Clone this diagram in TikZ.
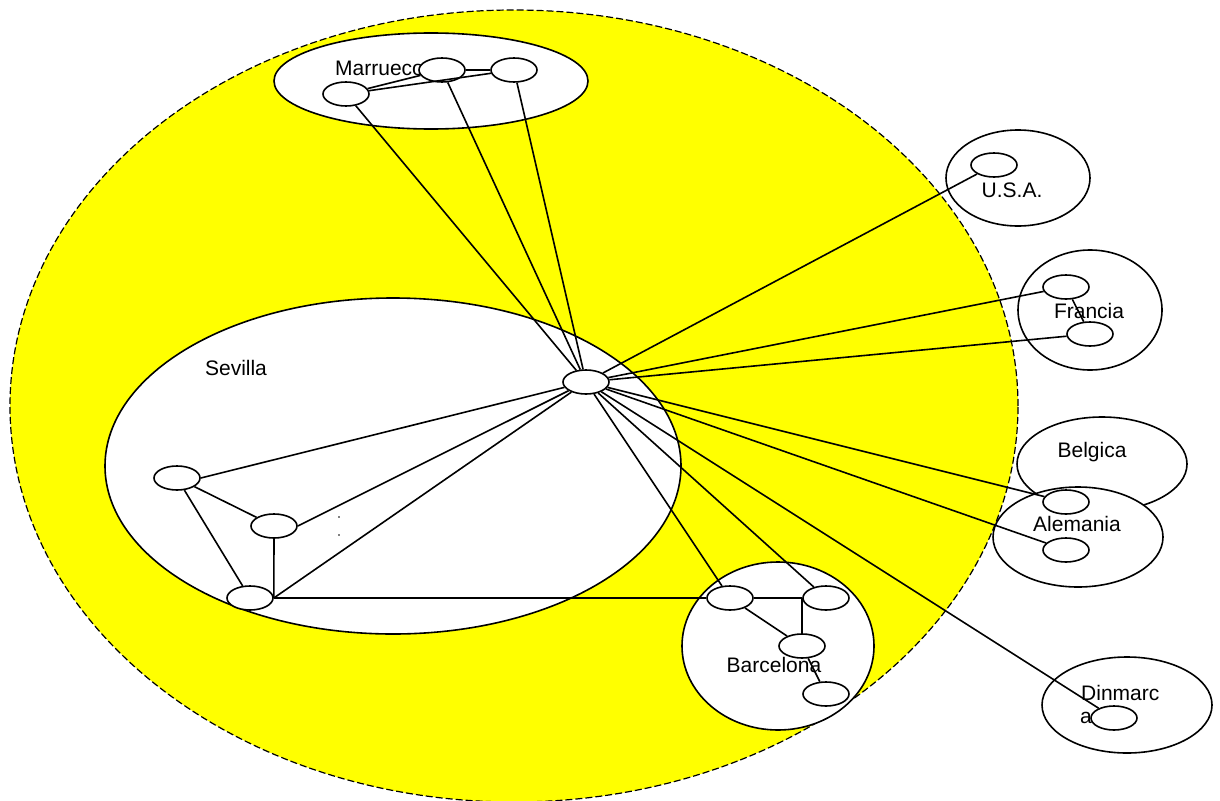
\documentclass[tikz,border=0pt]{standalone}
\usepackage{fontspec}
\setmainfont{Liberation Sans}
\usetikzlibrary{shapes.geometric}
\definecolor{worldyellow}{RGB}{255,255,0}
\begin{document}
\begin{tikzpicture}[x=1pt,y=-1pt,
  region/.style={ellipse,draw,fill=white,line width=1.6pt,inner sep=0pt},
  host/.style={ellipse,draw,fill=white,line width=1.6pt,minimum width=46pt,minimum height=24pt,inner sep=0pt},
  link/.style={line width=1.6pt},
  lbl/.style={font=\fontsize{21}{25}\selectfont,inner sep=0pt}]
\useasboundingbox (0,0) rectangle (1220,800);
\clip (0,0) rectangle (1220,800);
% world
\node[ellipse,draw,dashed,dash pattern=on 7pt off 3pt,fill=worldyellow,line width=1.2pt,inner sep=0pt,
      minimum width=1008pt,minimum height=792pt] (world) at (514,406) {};
% regions
\node[region,minimum width=314pt,minimum height=96pt] (mar) at (431,81) {};
\node[region,minimum width=576pt,minimum height=336pt] (sev) at (393,466) {};
\node[region,minimum width=192pt,minimum height=168pt] (bar) at (778,646) {};
\node[region,minimum width=144pt,minimum height=96pt] (usa) at (1018,178) {};
\node[region,minimum width=144pt,minimum height=120pt] (fra) at (1090,310) {};
\node[region,minimum width=170pt,minimum height=94pt] (bel) at (1102,464) {};
\node[region,minimum width=170pt,minimum height=100pt] (ale) at (1078,537) {};
\node[region,minimum width=170pt,minimum height=96pt] (din) at (1127,705) {};
% labels
\node[lbl,anchor=base west] (lmar) at (335,75) {Marruecos};
\node[lbl] (lsev) at (236,368) {Sevilla};
\node[lbl] (lbar) at (774,665) {Barcelona};
\node[lbl] (lusa) at (1012,190) {U.S.A.};
\node[lbl] (lfra) at (1089,311) {Francia};
\node[lbl] (lbel) at (1092,452) {Belgica};
\node[lbl] (lale) at (1077,524) {Alemania};
\node[lbl,anchor=base west] (ldin1) at (1081,700) {Dinmarc};
\node[lbl,anchor=base west] (ldin2) at (1080,723) {a};
\fill (339,517) circle (0.9pt) (339,535) circle (0.9pt);
% hosts
\node[host] (m1) at (346,94) {};
\node[host] (m2) at (442,70) {};
\node[host] (m3) at (514,70) {};
\node[host] (h) at (586,382) {};
\node[host] (s1) at (177,478) {};
\node[host] (s2) at (274,526) {};
\node[host] (s3) at (250,598) {};
\node[host] (b1) at (730,598) {};
\node[host] (b2) at (826,598) {};
\node[host] (b3) at (802,646) {};
\node[host] (b4) at (826,694) {};
\node[host] (u1) at (994,165) {};
\node[host] (f1) at (1066,287) {};
\node[host] (f2) at (1090,334) {};
\node[host] (a1) at (1066,502) {};
\node[host] (a2) at (1066,550) {};
\node[host] (d1) at (1114,718) {};
% links
\draw[link] (m1) -- (m2);
\draw[link] (m1) -- (m3);
\draw[link] (m2) -- (m3);
\draw[link] (h) -- (m1);
\draw[link] (h) -- (m2);
\draw[link] (h) -- (m3);
\draw[link] (s1.east) -- (h);
\draw[link] (s1) -- (s2);
\draw[link] (s1) -- (s3);
\draw[link] (s2.south) -- (s3.east);
\draw[link] (s2.east) -- (h);
\draw[link] (s3.east) -- (h);
\draw[link] (s3.east) -- (b1.west);
\draw[link] (b1) -- (b2);
\draw[link] (b1) -- (b3);
\draw[link] (b2.west) -- (b2.west |- b3.north);
\draw[link] (b3) -- (b4);
\draw[link] (h) -- (b1);
\draw[link] (h) -- (b2);
\draw[link] (h) -- (u1);
\draw[link] (h) -- (f1);
\draw[link] (h) -- (f2);
\draw[link] (f1) -- (f2);
\draw[link] (h) -- (a1);
\draw[link] (h) -- (a2);
\draw[link] (h) -- (d1);
\end{tikzpicture}
\end{document}
